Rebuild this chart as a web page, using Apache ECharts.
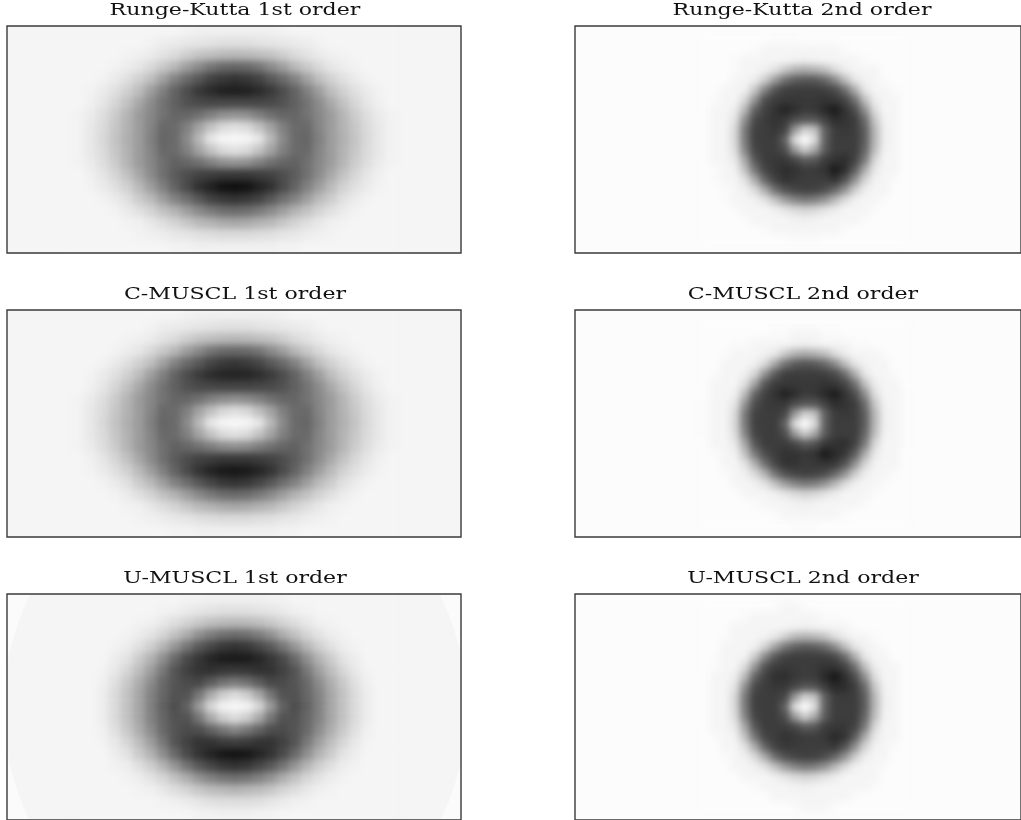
<!DOCTYPE html>
<html><head><meta charset="utf-8">
<style>
html,body{margin:0;padding:0;background:#fff;width:1021px;height:820px;overflow:hidden}
#bg div{position:absolute;width:454px;height:227px}
#clip{position:absolute;left:0;top:0;width:1021px;height:820px;
 clip-path:path('M7 26H461V253H7Z M575 26H1021V253H575Z M7 310H461V537H7Z M575 310H1021V537H575Z M7 594H461V820H7Z M575 594H1021V820H575Z')}
#heat{position:absolute;left:0;top:0;width:1021px;height:820px;filter:blur(3.8px)}
#frame{position:absolute;left:0;top:0;width:1021px;height:820px}
</style>
<script src="https://cdn.jsdelivr.net/npm/echarts@6/dist/echarts.min.js"></script>
</head><body>
<div id="bg">
<div style="left:7px;top:26px;background:#f5f5f5"></div>
<div style="left:575px;top:26px;background:#fcfcfc"></div>
<div style="left:7px;top:310px;background:#f5f5f5"></div>
<div style="left:575px;top:310px;background:#fcfcfc"></div>
<div style="left:7px;top:594px;background:radial-gradient(232px 244px at 228px 114px,#f5f5f5 99.5%,#fbfbfb 100%)"></div>
<div style="left:575px;top:594px;background:#fcfcfc"></div>
</div>
<div id="clip"><div id="heat"></div></div>
<div id="frame"></div>
<script>
const titles = ['Runge-Kutta 1st order','Runge-Kutta 2nd order','C-MUSCL 1st order','C-MUSCL 2nd order','U-MUSCL 1st order','U-MUSCL 2nd order'];

const rk1 = [
[4,4,4,4,4,4,4,4,4,5,6,6,6,6,6,6,6,5,4,4,4,4,4,4,4,4,4],
[4,4,4,4,4,4,5,7,8,9,10,11,12,12,12,11,10,9,8,7,5,4,4,4,4,4,4],
[4,4,4,4,5,6,8,11,14,19,23,25,27,28,27,25,23,19,14,11,8,6,5,4,4,4,4],
[4,4,4,5,7,10,15,21,28,38,46,54,59,60,59,54,46,38,28,21,15,10,7,5,4,4,4],
[4,4,5,8,12,18,25,37,49,58,66,74,78,80,78,74,66,58,49,37,25,18,12,8,5,4,4],
[4,5,8,12,18,26,38,50,61,70,78,83,87,88,87,83,78,70,61,50,38,26,18,12,8,5,4],
[4,6,10,16,24,34,45,55,62,68,71,72,72,72,72,72,71,68,62,55,45,34,24,16,10,6,4],
[5,8,13,20,29,39,47,55,60,60,56,50,44,42,44,50,56,60,60,55,47,39,29,20,13,8,5],
[5,9,14,22,30,39,48,59,58,50,36,24,15,12,15,24,36,50,58,59,48,39,30,22,14,9,5],
[5,9,15,23,31,39,50,60,58,46,28,10,4,3,4,10,28,46,58,60,50,39,31,23,15,9,5],
[5,9,14,22,30,39,48,59,58,50,36,24,15,12,15,24,36,50,58,59,48,39,30,22,14,9,5],
[5,8,13,20,29,39,47,56,62,60,56,50,44,42,44,50,56,60,62,56,47,39,29,20,13,8,5],
[4,6,10,16,24,34,45,56,64,70,74,76,78,78,78,76,74,70,64,56,45,34,24,16,10,6,4],
[4,5,8,12,18,27,38,50,61,71,81,87,93,94,93,87,81,71,61,50,38,27,18,12,8,5,4],
[4,4,5,8,12,20,27,38,49,57,66,74,78,80,78,74,66,57,49,38,27,20,12,8,5,4,4],
[4,4,4,5,8,12,17,24,30,38,46,52,57,58,57,52,46,38,30,24,17,12,8,5,4,4,4],
[4,4,4,4,5,6,9,13,17,22,27,30,33,34,33,30,27,22,17,13,9,6,5,4,4,4,4],
[4,4,4,4,4,5,6,7,9,10,12,13,14,14,14,13,12,10,9,7,6,5,4,4,4,4,4],
[4,4,4,4,4,4,4,4,5,5,6,6,6,6,6,6,6,5,5,4,4,4,4,4,4,4,4]];

const cm1 = [
[4,4,4,4,4,4,4,4,4,5,6,6,6,6,6,6,6,5,4,4,4,4,4,4,4,4,4],
[4,4,4,4,4,4,5,7,8,9,10,11,12,12,12,11,10,9,8,7,5,4,4,4,4,4,4],
[4,4,4,4,5,6,8,11,14,19,23,25,27,28,27,25,23,19,14,11,8,6,5,4,4,4,4],
[4,4,4,5,7,10,15,21,28,38,46,54,58,59,58,54,46,38,28,21,15,10,7,5,4,4,4],
[4,4,5,8,12,18,25,37,49,58,65,73,77,79,77,73,65,58,49,37,25,18,12,8,5,4,4],
[4,5,8,12,18,26,38,50,61,70,77,82,85,86,85,82,77,70,61,50,38,26,18,12,8,5,4],
[4,6,10,16,24,34,45,55,62,68,71,72,73,73,73,72,71,68,62,55,45,34,24,16,10,6,4],
[5,8,13,20,29,39,47,55,60,60,56,50,46,44,46,50,56,60,60,55,47,39,29,20,13,8,5],
[5,9,14,22,30,39,48,59,58,50,36,25,16,13,16,25,36,50,58,59,48,39,30,22,14,9,5],
[5,9,15,23,31,39,50,60,58,46,28,10,4,3,4,10,28,46,58,60,50,39,31,23,15,9,5],
[5,9,14,22,30,39,48,59,58,50,36,24,15,12,15,24,36,50,58,59,48,39,30,22,14,9,5],
[5,8,13,20,29,39,47,56,62,60,56,51,46,44,46,51,56,60,62,56,47,39,29,20,13,8,5],
[4,6,10,16,24,34,45,56,64,70,74,76,78,78,78,76,74,70,64,56,45,34,24,16,10,6,4],
[4,5,8,12,18,27,38,50,61,71,80,86,90,91,90,86,80,71,61,50,38,27,18,12,8,5,4],
[4,4,5,8,12,20,27,38,49,57,66,73,78,80,78,73,66,57,49,38,27,20,12,8,5,4,4],
[4,4,4,5,8,12,17,24,30,38,46,52,57,58,57,52,46,38,30,24,17,12,8,5,4,4,4],
[4,4,4,4,5,6,9,13,17,22,27,30,33,34,33,30,27,22,17,13,9,6,5,4,4,4,4],
[4,4,4,4,4,5,6,7,9,10,12,13,14,14,14,13,12,10,9,7,6,5,4,4,4,4,4],
[4,4,4,4,4,4,4,4,5,5,6,6,6,6,6,6,6,5,5,4,4,4,4,4,4,4,4]];

const um1 = [
[4,4,4,4,4,4,4,4,4,5,5,6,6,6,6,6,5,5,4,4,4,4,4,4,4,4,4],
[4,4,4,4,4,4,4,5,6,8,10,11,12,12,12,11,10,8,6,5,4,4,4,4,4,4,4],
[4,4,4,4,4,5,6,9,13,17,21,25,27,28,27,25,21,17,13,9,6,5,4,4,4,4,4],
[4,4,4,4,5,7,11,16,24,32,43,51,56,58,56,51,43,32,24,16,11,7,5,4,4,4,4],
[4,4,4,5,7,12,19,29,41,54,65,72,78,80,78,72,65,54,41,29,19,12,7,5,4,4,4],
[4,4,4,7,11,20,30,44,59,71,79,85,89,90,89,85,79,71,59,44,30,20,11,7,4,4,4],
[4,4,5,9,16,26,38,53,67,75,80,81,79,78,79,81,80,75,67,53,38,26,16,9,5,4,4],
[4,4,6,12,21,32,45,59,67,71,72,64,56,52,56,64,72,71,67,59,45,32,21,12,6,4,4],
[4,4,7,14,24,35,49,60,68,68,54,34,20,14,20,34,54,68,68,60,49,35,24,14,7,4,4],
[4,4,7,14,24,35,50,62,70,62,40,16,5,3,5,16,40,62,70,62,50,35,24,14,7,4,4],
[4,4,7,14,24,35,49,60,68,68,54,34,20,14,20,34,54,68,68,60,49,35,24,14,7,4,4],
[4,4,6,12,21,32,45,59,67,71,70,62,54,48,54,62,70,71,67,59,45,32,21,12,6,4,4],
[4,4,5,9,16,26,38,53,67,75,80,80,77,76,77,80,80,75,67,53,38,26,16,9,5,4,4],
[4,4,4,7,11,20,30,44,59,71,80,86,91,92,91,86,80,71,59,44,30,20,11,7,4,4,4],
[4,4,4,5,7,12,19,29,41,54,65,72,78,80,78,72,65,54,41,29,19,12,7,5,4,4,4],
[4,4,4,4,5,7,11,16,24,32,42,49,54,56,54,49,42,32,24,16,11,7,5,4,4,4,4],
[4,4,4,4,4,5,6,9,13,17,22,26,28,30,28,26,22,17,13,9,6,5,4,4,4,4,4],
[4,4,4,4,4,4,4,5,6,8,10,12,13,13,13,12,10,8,6,5,4,4,4,4,4,4,4],
[4,4,4,4,4,4,4,4,4,4,5,5,6,6,6,5,5,4,4,4,4,4,4,4,4,4,4]];

const rk2 = [
[1,1,1,1,1,1,1,2,2,2,1,1,1,1,1,1,1,1,1,1,1],
[1,1,1,1,1,2,4,4,4,4,4,4,4,4,2,1,1,1,1,1,1],
[1,1,1,2,4,4,4,4,4,5,6,5,4,4,4,4,2,1,1,1,1],
[1,1,1,2,4,4,6,11,21,30,32,30,25,14,7,4,4,4,1,1,1],
[1,1,1,4,4,7,19,38,55,63,66,65,59,46,26,10,5,4,2,1,1],
[1,1,4,4,6,22,48,67,75,76,76,76,75,71,57,32,10,4,4,2,1],
[1,2,4,4,15,42,69,76,78,78,78,78,80,78,73,56,25,7,4,4,1],
[1,4,4,7,28,62,74,80,86,82,77,78,84,90,80,70,44,13,4,4,1],
[1,4,4,11,44,71,76,80,78,70,66,66,74,82,80,76,58,22,5,4,1],
[1,4,4,15,52,75,76,78,74,40,18,24,62,76,78,76,63,28,6,4,1],
[1,4,4,15,52,75,76,76,62,14,0,14,62,76,76,76,64,28,6,4,1],
[1,4,4,13,48,73,76,76,70,40,20,34,64,76,76,76,60,25,5,4,1],
[1,4,4,9,34,66,76,78,78,72,64,66,76,80,82,74,52,15,4,4,1],
[1,2,4,5,24,54,73,78,82,80,77,77,80,90,82,64,33,9,4,4,1],
[1,2,4,4,11,33,60,74,80,78,76,76,76,80,68,44,17,5,4,2,1],
[1,1,2,4,6,14,33,56,68,73,75,74,70,60,43,20,7,4,4,1,1],
[1,1,2,4,4,6,11,24,38,48,52,50,42,28,14,6,4,4,2,1,1],
[1,1,1,2,4,4,4,6,10,14,17,15,11,7,4,4,4,2,1,1,1],
[1,1,1,1,2,4,4,4,4,5,6,5,4,4,4,4,2,1,1,1,1],
[1,1,1,1,1,1,2,4,4,4,4,4,4,4,2,1,1,1,1,1,1],
[1,1,1,1,1,1,1,1,1,2,2,2,1,1,1,1,1,1,1,1,1]];

const cm2 = [
[1,1,1,1,1,1,1,1,1,1,1,1,1,1,1,1,1,1,1,1,1],
[1,1,1,1,1,1,1,2,2,4,4,4,2,2,1,1,1,1,1,1,1],
[1,1,1,2,2,4,4,4,4,5,6,5,4,4,4,2,2,1,1,1,1],
[1,1,2,4,4,4,5,9,20,30,33,30,25,14,7,4,4,4,2,1,1],
[1,1,4,4,4,6,14,34,54,64,67,65,59,46,26,10,5,4,4,1,1],
[1,2,4,4,6,16,42,64,75,76,76,76,75,71,57,32,10,4,4,2,1],
[1,4,4,4,12,36,66,76,78,78,78,78,80,78,73,56,25,7,4,4,1],
[1,4,4,6,26,60,74,80,87,82,77,78,84,89,80,70,44,13,4,4,2],
[2,4,4,10,42,70,76,78,78,70,66,66,74,82,80,76,58,22,5,4,2],
[2,4,4,14,52,74,76,77,72,40,18,24,62,76,78,76,63,28,6,4,2],
[2,4,4,15,52,75,76,76,62,14,0,14,62,76,76,76,64,28,6,4,2],
[2,4,4,13,48,73,76,76,70,40,20,34,64,76,76,76,60,25,5,4,2],
[1,4,4,9,34,66,76,76,77,72,64,68,78,80,82,74,52,15,4,4,2],
[1,2,4,5,24,52,70,76,80,80,78,80,90,84,78,64,33,9,4,4,1],
[1,1,4,4,11,31,56,72,80,80,77,78,80,78,68,44,17,5,4,4,1],
[1,1,2,4,6,14,30,54,68,73,75,74,70,60,43,20,7,4,4,2,1],
[1,1,1,4,4,6,11,24,38,48,52,50,42,28,14,6,4,4,2,1,1],
[1,1,1,1,4,4,4,6,10,14,17,15,11,7,4,4,4,2,1,1,1],
[1,1,1,1,1,2,4,4,4,5,6,5,4,4,4,4,2,1,1,1,1],
[1,1,1,1,1,1,1,2,4,4,4,4,4,4,2,1,1,1,1,1,1],
[1,1,1,1,1,1,1,1,1,2,2,2,1,1,1,1,1,1,1,1,1]];

const um2 = [
[1,1,1,1,1,1,1,2,4,4,2,1,1,1,1,1,1,1,1,1,1],
[1,1,1,1,2,4,4,4,4,4,4,4,2,2,1,1,1,1,1,1,1],
[1,1,1,4,4,4,4,4,4,5,6,5,4,4,4,2,1,1,1,1,1],
[1,1,2,4,4,4,5,9,18,28,30,28,23,13,7,4,4,2,1,1,1],
[1,1,4,4,4,6,17,36,53,62,65,63,58,45,26,10,5,4,2,1,1],
[1,2,4,4,5,20,46,66,74,76,76,76,75,72,58,32,10,4,4,1,1],
[1,2,4,4,14,41,68,76,78,77,76,77,80,80,74,56,25,7,4,4,1],
[1,4,4,7,27,61,74,81,82,78,76,77,84,91,82,70,44,13,4,4,1],
[1,4,4,11,44,71,76,78,78,72,66,68,76,84,82,76,58,22,5,4,1],
[1,4,4,15,52,75,76,76,72,40,18,24,62,76,77,76,63,28,6,4,1],
[1,4,4,15,52,75,76,76,62,14,0,14,62,76,76,76,64,28,6,4,1],
[1,4,4,13,48,73,76,76,70,40,20,34,64,76,76,76,60,25,5,4,1],
[1,4,4,9,34,66,76,76,76,72,64,66,76,78,78,74,52,15,4,4,1],
[1,2,4,5,24,54,73,76,80,78,76,76,78,84,80,64,33,9,4,4,1],
[1,1,4,4,11,33,60,74,78,77,76,76,76,78,68,44,17,5,4,2,1],
[1,1,2,4,6,14,33,56,68,73,75,74,70,60,43,20,7,4,4,1,1],
[1,1,1,4,4,6,11,24,38,48,52,50,42,28,14,6,4,4,2,1,1],
[1,1,1,1,4,4,4,6,10,14,17,15,11,7,4,4,4,4,1,1,1],
[1,1,1,1,1,2,4,4,4,5,6,5,4,4,4,4,4,2,1,1,1],
[1,1,1,1,1,1,1,4,4,4,4,4,4,4,4,2,1,1,1,1,1],
[1,1,1,1,1,1,1,1,1,2,4,4,4,2,1,1,1,1,1,1,1]];

const rowsByPanel = [rk1, rk2, cm1, cm2, um1, um2];
const cellLeft = 12, cellRight = 10;
const heatBoxes = [
 {left:73,top:25},{left:700,top:35},
 {left:73,top:309},{left:700,top:319},
 {left:73,top:593},{left:700,top:602}];
const frameBoxes = [[7,26,227],[575,26,227],[7,310,227],[575,310,227],[7,594,230],[575,594,230]];
const titlePos = [[235,11],[802,11],[235,295],[803,295],[235,579],[803,579]];

const heat = echarts.init(document.getElementById('heat'), null, {renderer:'canvas', devicePixelRatio:1});
const grids=[],xs=[],ys=[],series=[];
rowsByPanel.forEach((rows,p)=>{
  const cell = p%2 ? cellRight : cellLeft;
  const nc = rows[0].length, nr = rows.length;
  grids.push({left:heatBoxes[p].left, top:heatBoxes[p].top, width:nc*cell, height:nr*cell, show:false});
  xs.push({type:'category', gridIndex:p, show:false, data:rows[0].map((_,i)=>i)});
  ys.push({type:'category', gridIndex:p, show:false, inverse:true, data:rows.map((_,i)=>i)});
  const data=[];
  rows.forEach((r,j)=>r.forEach((v,i)=>data.push([i,j,v])));
  series.push({type:'heatmap', name:titles[p], xAxisIndex:p, yAxisIndex:p, data, progressive:0, animation:false, itemStyle:{borderWidth:0}});
});
heat.setOption({animation:false, grid:grids, xAxis:xs, yAxis:ys,
  visualMap:{show:false, min:0, max:100, dimension:2, inRange:{color:['#ffffff','#000000']}},
  series});

const frame = echarts.init(document.getElementById('frame'), null, {renderer:'canvas'});
frame.setOption({animation:false,
  grid:frameBoxes.map(b=>({left:b[0], top:b[1], width:454, height:b[2], show:true, borderColor:'#3a3a3a', borderWidth:1.4, backgroundColor:'transparent'})),
  xAxis:frameBoxes.map((b,i)=>({type:'value', gridIndex:i, show:false})),
  yAxis:frameBoxes.map((b,i)=>({type:'value', gridIndex:i, show:false})),
  graphic:titles.map((t,i)=>({type:'text', x:titlePos[i][0], y:titlePos[i][1], scaleX:1.38, silent:true,
    style:{text:t, font:'16px "DejaVu Serif"', textAlign:'center', textVerticalAlign:'middle', fill:'#111'}}))
});
</script>
</body></html>
